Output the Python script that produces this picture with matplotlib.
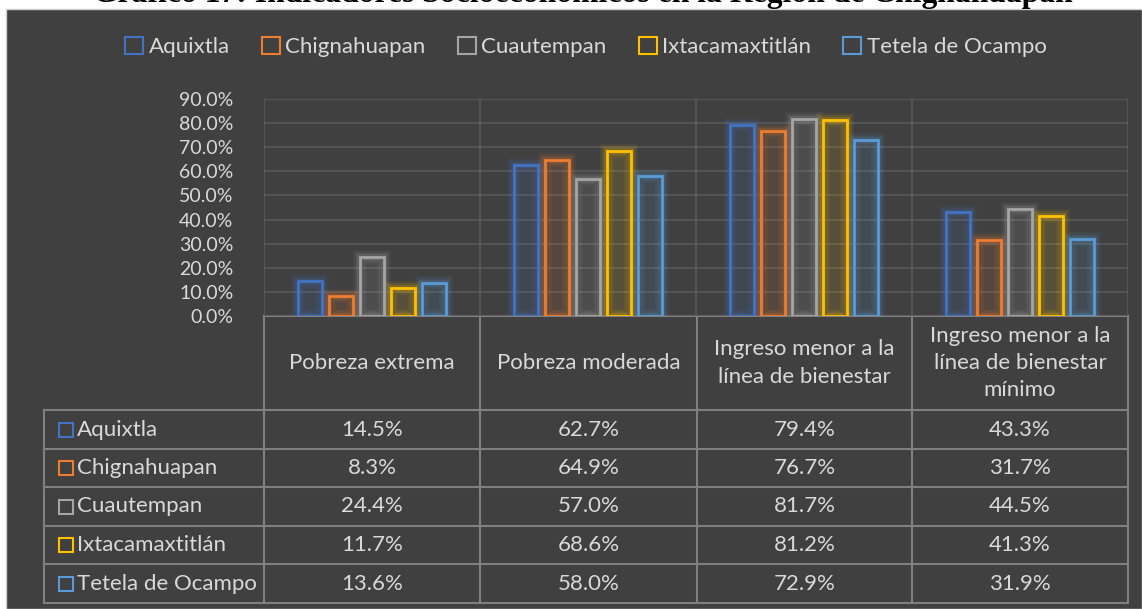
import matplotlib.pyplot as plt
import numpy as np
from matplotlib.patches import Rectangle, Patch

plt.rcParams['font.family'] = ['Lato', 'DejaVu Sans']

# data
categorias = ['Pobreza extrema', 'Pobreza moderada',
              'Ingreso menor a la\nlínea de bienestar',
              'Ingreso menor a la\nlínea de bienestar\nmínimo']
municipios = ['Aquixtla', 'Chignahuapan', 'Cuautempan', 'Ixtacamaxtitlán', 'Tetela de Ocampo']
aquixtla = [14.5, 62.7, 79.4, 43.3]
chignahuapan = [8.3, 64.9, 76.7, 31.7]
cuautempan = [24.4, 57.0, 81.7, 44.5]
ixtaca = [11.7, 68.6, 81.2, 41.3]
tetela = [13.6, 58.0, 72.9, 31.9]
valores = [aquixtla, chignahuapan, cuautempan, ixtaca, tetela]
colores = ['#4472c4', '#ed7d31', '#a5a5a5', '#ffc000', '#5b9bd5']

W, H = 1142, 609
bg = '#404040'
txt = '#d9d9d9'
grid = '#595959'
tline = '#808080'

fig = plt.figure(figsize=(W / 100, H / 100), dpi=100, facecolor='white')

# overlay in pixel coordinates
ov = fig.add_axes([0, 0, 1, 1])
ov.set_xlim(0, W)
ov.set_ylim(H, 0)
ov.axis('off')
ov.add_patch(Rectangle((6, 9), W - 6, H - 9, facecolor=bg, edgecolor='#d0d0d0', lw=1, zorder=0))

# titulo (cortado arriba como en la imagen original)
fig.text(583 / W, 1 - 2 / H, 'Gráfico 17: Indicadores Socioeconómicos en la Región de Chignahuapan',
         ha='center', va='baseline', fontsize=22.8, fontweight='bold', family='Liberation Serif',
         color='black')

# plot area
xl, xr, yt, yb = 264, 1128, 99, 316
ax = fig.add_axes([xl / W, 1 - yb / H, (xr - xl) / W, (yb - yt) / H])
ax.set_facecolor('none')
n = len(categorias)
ax.set_xlim(0, n)
ax.set_ylim(0, 90)
ax.set_yticks(np.arange(0, 91, 10))
ax.set_yticklabels(['%.1f%%' % v for v in np.arange(0, 91, 10)], color=txt, fontsize=14)
ax.tick_params(axis='y', length=0, pad=22)
ax.set_xticks([])
ax.grid(axis='y', color=grid, lw=1.2)
ax.set_axisbelow(True)
for s in ax.spines.values():
    s.set_visible(False)
for i in range(n + 1):
    ax.axvline(i, color=grid, lw=1.2, zorder=0.5)

x = np.arange(n) + 0.5
step = 0.144
bw = 0.11
for j, (vals, c) in enumerate(zip(valores, colores)):
    pos = x + (j - 2) * step
    for lw, a in [(10, 0.07), (7, 0.11), (4.5, 0.17)]:
        ax.bar(pos, vals, width=bw, facecolor='none', edgecolor=c, lw=lw, alpha=a, zorder=2)
    ax.bar(pos, vals, width=bw * 0.7, facecolor=c, alpha=0.12, zorder=2, lw=0)
    ax.bar(pos, vals, width=bw, facecolor='none', edgecolor=c, lw=2, zorder=3)

# data table
cols = [44, 264, 480, 697, 912, 1128]
rows = [316, 410, 449, 487, 526, 564, 603]
ov.plot([264, cols[-1]], [rows[0], rows[0]], color=tline, lw=1.5)
for y in rows[1:]:
    ov.plot([44, cols[-1]], [y, y], color=tline, lw=1.5)
ov.plot([44, 44], [410, 603], color=tline, lw=1.5)
for xc in cols[1:]:
    ov.plot([xc, xc], [rows[0], 603], color=tline, lw=1.5)

for i, cat in enumerate(categorias):
    cx = (cols[i + 1] + cols[i + 2]) / 2
    ov.text(cx, (rows[0] + rows[1]) / 2, cat, ha='center', va='center', color=txt,
            fontsize=16, linespacing=1.45)

for j, (m, vals, c) in enumerate(zip(municipios, valores, colores)):
    cy = (rows[j + 1] + rows[j + 2]) / 2
    ov.add_patch(Rectangle((59, cy - 7), 14, 14, facecolor='none', edgecolor=c, lw=1.5))
    ov.text(77, cy, m, ha='left', va='center', color=txt, fontsize=16)
    for i, v in enumerate(vals):
        cx = (cols[i + 1] + cols[i + 2]) / 2
        ov.text(cx, cy, '%.1f%%' % v, ha='center', va='center', color=txt, fontsize=16)

handles = [Patch(facecolor='none', edgecolor=c, lw=1.5, label=m) for m, c in zip(municipios, colores)]
leg = fig.legend(handles=handles, loc='center', bbox_to_anchor=(586 / W, 1 - 47 / H), ncol=5,
                 frameon=False, fontsize=16, handlelength=0.8, handleheight=0.8,
                 handletextpad=0.25, columnspacing=1.45, labelcolor=txt)

fig.savefig('out.png', dpi=100, facecolor=fig.get_facecolor())
